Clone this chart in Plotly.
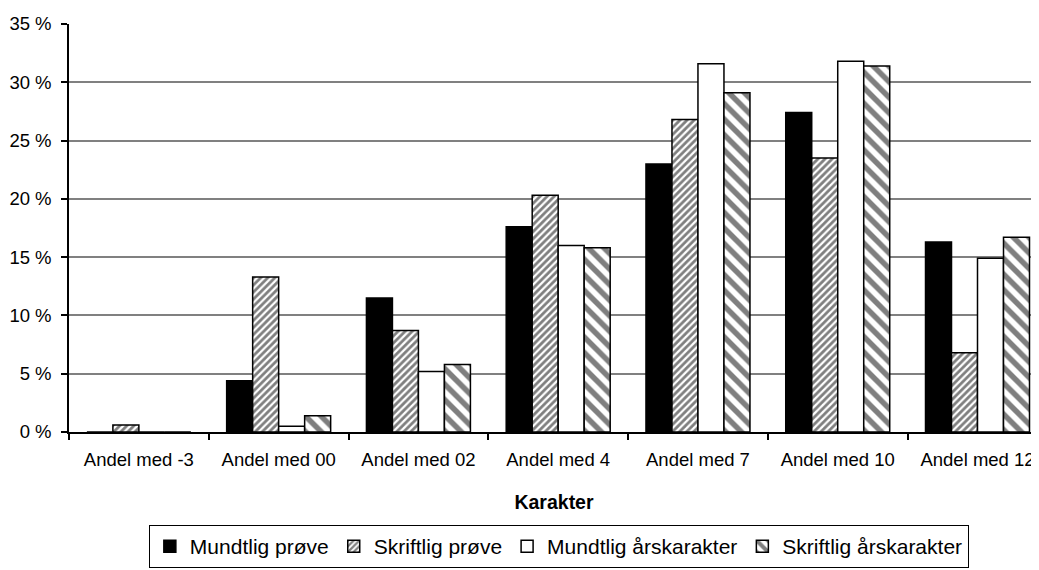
import plotly.graph_objects as go

categories = ["Andel med -3", "Andel med 00", "Andel med 02", "Andel med 4",
              "Andel med 7", "Andel med 10", "Andel med 12"]
series_names = ["Mundtlig prøve", "Skriftlig prøve", "Mundtlig årskarakter", "Skriftlig årskarakter"]
mundtlig_prove = [0.0, 4.4, 11.5, 17.6, 23.0, 27.4, 16.3]
skriftlig_prove = [0.6, 13.3, 8.7, 20.3, 26.8, 23.5, 6.8]
mundtlig_aars = [0.0, 0.5, 5.2, 16.0, 31.6, 31.8, 14.9]
skriftlig_aars = [0.0, 1.4, 5.8, 15.8, 29.1, 31.4, 16.7]
y_ticks = [0, 5, 10, 15, 20, 25, 30, 35]
y_ticktext = [f"{v} %" for v in y_ticks]

FONT = "Liberation Sans, Arial, sans-serif"
line = dict(color="black", width=1.5)

fig = go.Figure()
fig.add_trace(go.Bar(name=series_names[0], x=categories, y=mundtlig_prove,
                     marker=dict(color="black", line=line)))
fig.add_trace(go.Bar(name=series_names[1], x=categories, y=skriftlig_prove,
                     marker=dict(color="white", line=line,
                                 pattern=dict(shape="/", size=5, solidity=0.55,
                                              fgcolor="black", bgcolor="white"))))
fig.add_trace(go.Bar(name=series_names[2], x=categories, y=mundtlig_aars,
                     marker=dict(color="white", line=line)))
fig.add_trace(go.Bar(name=series_names[3], x=categories, y=skriftlig_aars,
                     marker=dict(color="white", line=line,
                                 pattern=dict(shape="\\", size=11, solidity=0.5,
                                              fgcolor="black", bgcolor="white"))))

fig.update_layout(
    width=1031, height=562,
    margin=dict(l=61, r=0, t=16, b=138),
    paper_bgcolor="white", plot_bgcolor="white",
    barmode="group", bargap=0.256, bargroupgap=0,
    font=dict(family=FONT, color="black"),
    showlegend=True,
    legend=dict(orientation="h", x=0.505, xanchor="center", y=-0.228, yanchor="top",
                font=dict(size=21, family=FONT), bordercolor="black", borderwidth=1,
                bgcolor="white", traceorder="normal"),
    xaxis=dict(
        range=[-0.5, 6.44], showline=True, linecolor="black", linewidth=1.5,
        ticks="outside", tickson="boundaries", ticklen=6, tickcolor="black", tickwidth=1.5,
        tickfont=dict(size=18.5), ticklabelstandoff=10, showgrid=False,
        title=dict(text="<b>Karakter</b>", font=dict(size=19.5), standoff=26),
        automargin=False,
    ),
    yaxis=dict(
        range=[0, 35], tickvals=y_ticks, ticktext=y_ticktext,
        showline=True, linecolor="black", linewidth=1.5,
        ticks="outside", ticklen=6, tickcolor="black", tickwidth=1.5,
        tickfont=dict(size=18.5), ticklabelstandoff=6,
        showgrid=True, gridcolor="#808080", gridwidth=1.5,
        zeroline=False, automargin=False,
    ),
)

fig.write_html("out.html")
